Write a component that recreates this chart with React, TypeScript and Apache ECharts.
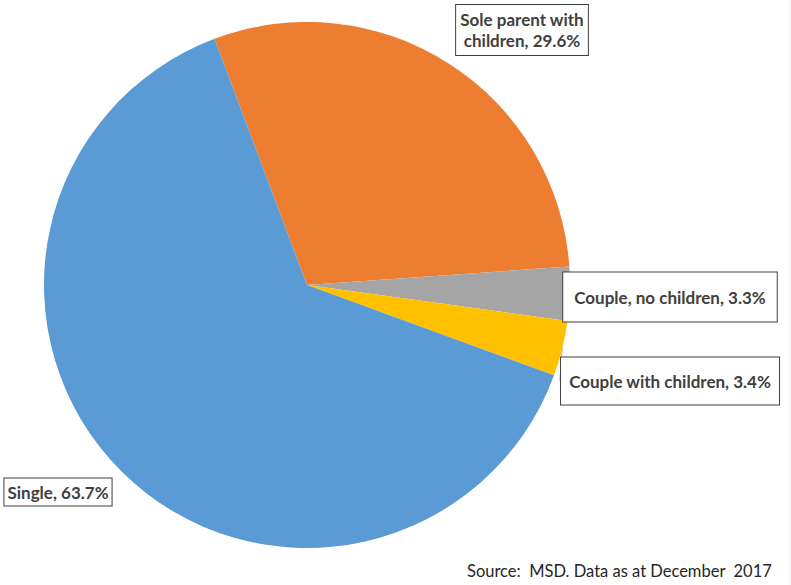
import React, { useEffect, useRef } from "react";
import * as echarts from "echarts";

const categories = [
  "Sole parent with\nchildren",
  "Couple, no children",
  "Couple with children",
  "Single",
];
const shares = [29.6, 3.3, 3.4, 63.7];
const colors = ["#ED7D31", "#A5A5A5", "#FFC000", "#5B9BD5"];
const sourceNote = "Source:  MSD. Data as at December  2017";

const labelCenters = [
  [522, 30],
  [670, 297],
  [670, 381],
  [58, 492],
];
const labelPadding = [
  [4, 4],
  [14, 11],
  [13, 8],
  [3, 3],
];

export default function App() {
  const ref = useRef<HTMLDivElement>(null);
  useEffect(() => {
    if (!ref.current) return;
    const chart = echarts.init(ref.current, null, { renderer: "svg" });
    const font = "Lato, 'Open Sans', sans-serif";
    chart.setOption({
      animation: false,
      backgroundColor: "#ffffff",
      graphic: [
        {
          type: "text",
          left: 467,
          top: 562,
          style: {
            text: sourceNote,
            font: "16.5px " + font,
            fill: "#262626",
          },
        },
        {
          type: "line",
          shape: { x1: 790, y1: 0, x2: 790, y2: 585 },
          style: { stroke: "#eeeeee", lineWidth: 1 },
        },
      ],
      series: [
        {
          type: "pie",
          center: [307, 285],
          radius: [0, 263],
          startAngle: 110.6,
          clockwise: true,
          avoidLabelOverlap: false,
          itemStyle: { borderWidth: 0 },
          emphasis: { disabled: true },
          data: categories.map((name, i) => ({
            name,
            value: shares[i],
            itemStyle: { color: colors[i] },
            label: {
              padding: [labelPadding[i][0], labelPadding[i][1]],
            },
            labelLine: { show: i === 2 },
          })),
          label: {
            show: true,
            formatter: (p: any) => `${p.name}, ${p.value.toFixed(1)}%`,
            fontFamily: font,
            fontWeight: "bold",
            fontSize: 17,
            lineHeight: 21,
            color: "#404040",
            backgroundColor: "#ffffff",
            borderColor: "#404040",
            borderWidth: 1,
            align: "center",
          },
          labelLine: {
            length: 4,
            length2: 2,
            lineStyle: { color: "#A6A6A6", width: 1 },
          },
          labelLayout: (params: any) => {
            const c = labelCenters[params.dataIndex];
            return {
              x: c[0],
              y: c[1],
              align: "center",
              verticalAlign: "middle",
            };
          },
        },
      ],
    });
    return () => chart.dispose();
  }, []);
  return (
    <div
      ref={ref}
      style={{ position: "absolute", left: 0, top: 0, width: 791, height: 585 }}
    />
  );
}
